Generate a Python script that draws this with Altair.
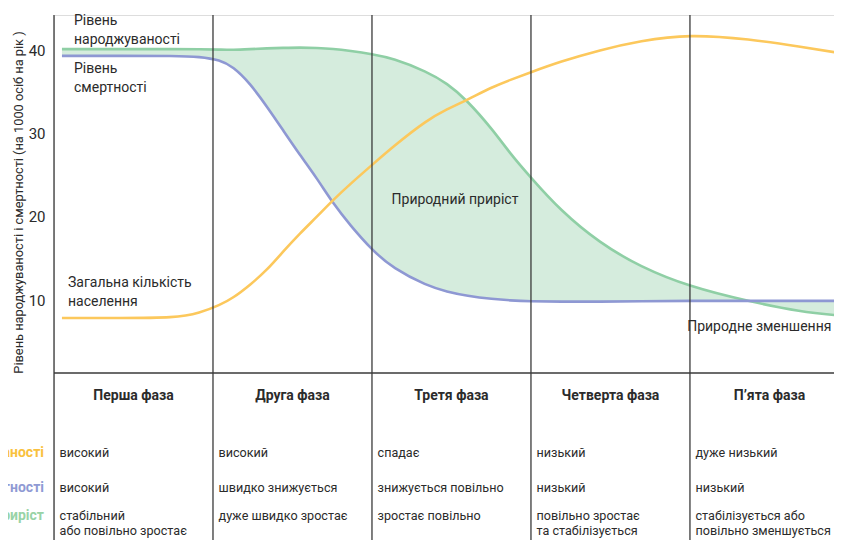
import altair as alt
import pandas as pd

# x in "phase" units (0 = start of phase 1, 1 = start of phase 2, ...)
phase_pos = [0.050, 0.415, 0.761, 0.918, 1.044, 1.126, 1.233, 1.340, 1.440, 1.547, 1.654, 1.755,
             1.862, 2.000, 2.132, 2.346, 2.472, 2.597, 2.761, 2.868, 2.994, 3.182, 3.434, 3.686,
             3.994, 4.377, 4.692, 4.956]
birth = [40.1, 40.1, 40.1, 40.1, 40.05, 40.0, 40.1, 40.2, 40.25, 40.3, 40.25, 40.15,
         39.9, 39.5, 39.0, 37.4, 36.0, 34.0, 30.4, 27.6, 24.8, 20.8, 16.8, 14.0,
         11.6, 9.8, 8.6, 8.1]
death = [39.3, 39.3, 39.3, 39.2, 38.8, 38.0, 36.0, 33.2, 30.4, 27.4, 24.6, 21.6,
         19.0, 16.0, 13.8, 11.7, 11.0, 10.5, 10.1, 9.95, 9.85, 9.8, 9.8, 9.85,
         9.9, 9.9, 9.9, 9.9]
population = [7.84, 7.84, 7.84, 8.44, 9.4, 10.24, 11.8, 13.6, 15.8, 18.0, 20.0, 22.0,
              23.9, 26.2, 28.4, 31.6, 32.9, 34.0, 35.6, 36.4, 37.3, 38.6, 40.0, 41.1,
              41.9, 41.3, 40.4, 39.6]

y_ticks = [10, 20, 30, 40]
phase_starts = [0, 1, 2, 3, 4]
phase_names = ["Перша фаза", "Друга фаза", "Третя фаза", "Четверта фаза", "П’ята фаза"]
row_birth = ["високий", "високий", "спадає", "низький", "дуже низький"]
row_death = ["високий", "швидко знижується", "знижується повільно", "низький", "низький"]
row_growth = ["стабільний\nабо повільно зростає", "дуже швидко зростає", "зростає повільно",
              "повільно зростає\nта стабілізується", "стабілізується або\nповільно зменшується"]
row_labels = ["Рівень народжуваності", "Рівень смертності", "Природний приріст"]

FONT = "Roboto"
TXT = "#2b2b2b"
GREEN = "#8fcfa5"
BLUE = "#8e98d3"
ORANGE = "#fcc85c"
FILL = "#d5ecdd"
FS = 14
FS_T = 12.6
INTERP = "basis"

df = pd.DataFrame({"x": phase_pos, "birth": birth, "death": death, "pop": population})

xs = alt.Scale(domain=[0, 4.906], nice=False, zero=False)
ys = alt.Scale(domain=[-18.8, 44.2], nice=False, zero=False)
X = alt.X("x:Q", scale=xs, axis=None)

base = alt.Chart(df)

area = base.mark_area(color=FILL, opacity=1, interpolate=INTERP, clip=True).encode(
    x=X, y=alt.Y("birth:Q", scale=ys,
                 axis=alt.Axis(values=y_ticks, ticks=False, domain=False, grid=False,
                               labelFont=FONT, labelFontSize=15, labelColor=TXT, labelPadding=9,
                               title="Рівень народжуваності і смертності (на 1000 осіб на рік )",
                               titleFont=FONT, titleFontSize=12.8, titleFontWeight="normal",
                               titleColor=TXT, titleAngle=270, titleX=-36, titleY=187,
                               titleAlign="center", titleBaseline="middle")),
    y2="death:Q")

l_birth = base.mark_line(color=GREEN, strokeWidth=2.6, interpolate=INTERP, clip=True).encode(
    x=X, y=alt.Y("birth:Q", scale=ys))
l_death = base.mark_line(color=BLUE, strokeWidth=2.6, interpolate=INTERP, clip=True).encode(
    x=X, y=alt.Y("death:Q", scale=ys))
l_pop = base.mark_line(color=ORANGE, strokeWidth=2.6, interpolate=INTERP, clip=True).encode(
    x=X, y=alt.Y("pop:Q", scale=ys))

vrules = alt.Chart(pd.DataFrame({"x": phase_starts})).mark_rule(
    color="#3a3a3a", strokeWidth=1.3).encode(x=X)
hrule = alt.Chart(pd.DataFrame({"y": [1.24]})).mark_rule(
    color="#3a3a3a", strokeWidth=1.5).encode(y=alt.Y("y:Q", scale=ys))

# annotations inside the plot
ann = pd.DataFrame({
    "x": [0.126, 0.126, 0.088, 2.522, 4.89],
    "y": [43.0, 37.24, 11.56, 21.52, 6.28],
    "t": ["Рівень\nнароджуваності", "Рівень\nсмертності", "Загальна кількість\nнаселення",
          "Природний приріст", "Природне зменшення"],
    "a": ["left", "left", "left", "center", "right"],
})
ann_layers = []
for al in ["left", "center", "right"]:
    sub = ann[ann.a == al]
    ann_layers.append(alt.Chart(sub).mark_text(
        font=FONT, fontSize=FS, color=TXT, align=al, baseline="alphabetic",
        lineBreak="\n", lineHeight=18.5).encode(
        x=X, y=alt.Y("y:Q", scale=ys), text="t:N"))

# table
hdr = pd.DataFrame({"x": [i + 0.5 for i in phase_starts], "y": [-2.0] * 5, "t": phase_names})
headers = alt.Chart(hdr).mark_text(font=FONT, fontSize=FS, fontWeight="bold", color=TXT,
                                   align="center", baseline="alphabetic").encode(
    x=X, y=alt.Y("y:Q", scale=ys), text="t:N")

rows = pd.DataFrame({
    "x": [i + 0.035 for i in phase_starts] * 3,
    "y": [-8.84] * 5 + [-13.04] * 5 + [-16.4] * 5,
    "t": row_birth + row_death + row_growth,
})
cells = alt.Chart(rows).mark_text(font=FONT, fontSize=FS_T, color=TXT, align="left",
                                  baseline="alphabetic", lineBreak="\n", lineHeight=15).encode(
    x=X, y=alt.Y("y:Q", scale=ys), text="t:N")

lab = pd.DataFrame({"x": [-0.063] * 3, "y": [-8.84, -13.04, -16.4], "t": row_labels,
                    "c": ["o", "b", "g"]})
labels = alt.Chart(lab).mark_text(font=FONT, fontSize=FS, fontWeight="bold", align="right",
                                  baseline="alphabetic").encode(
    x=X, y=alt.Y("y:Q", scale=ys), text="t:N",
    color=alt.Color("c:N", scale=alt.Scale(domain=["o", "b", "g"],
                                           range=["#f9c13e", "#8f9ad4", "#98d3a6"]), legend=None))

chart = alt.layer(area, l_birth, l_death, l_pop, vrules, hrule, *ann_layers,
                  headers, cells, labels).properties(
    width=780, height=525,
    autosize=alt.AutoSizeParams(type="none"),
    padding={"left": 46, "top": 7, "right": 0, "bottom": 0},
).configure_view(stroke=None).configure(background="white")

chart.save("out.html", embed_options={"renderer": "svg", "actions": False})
